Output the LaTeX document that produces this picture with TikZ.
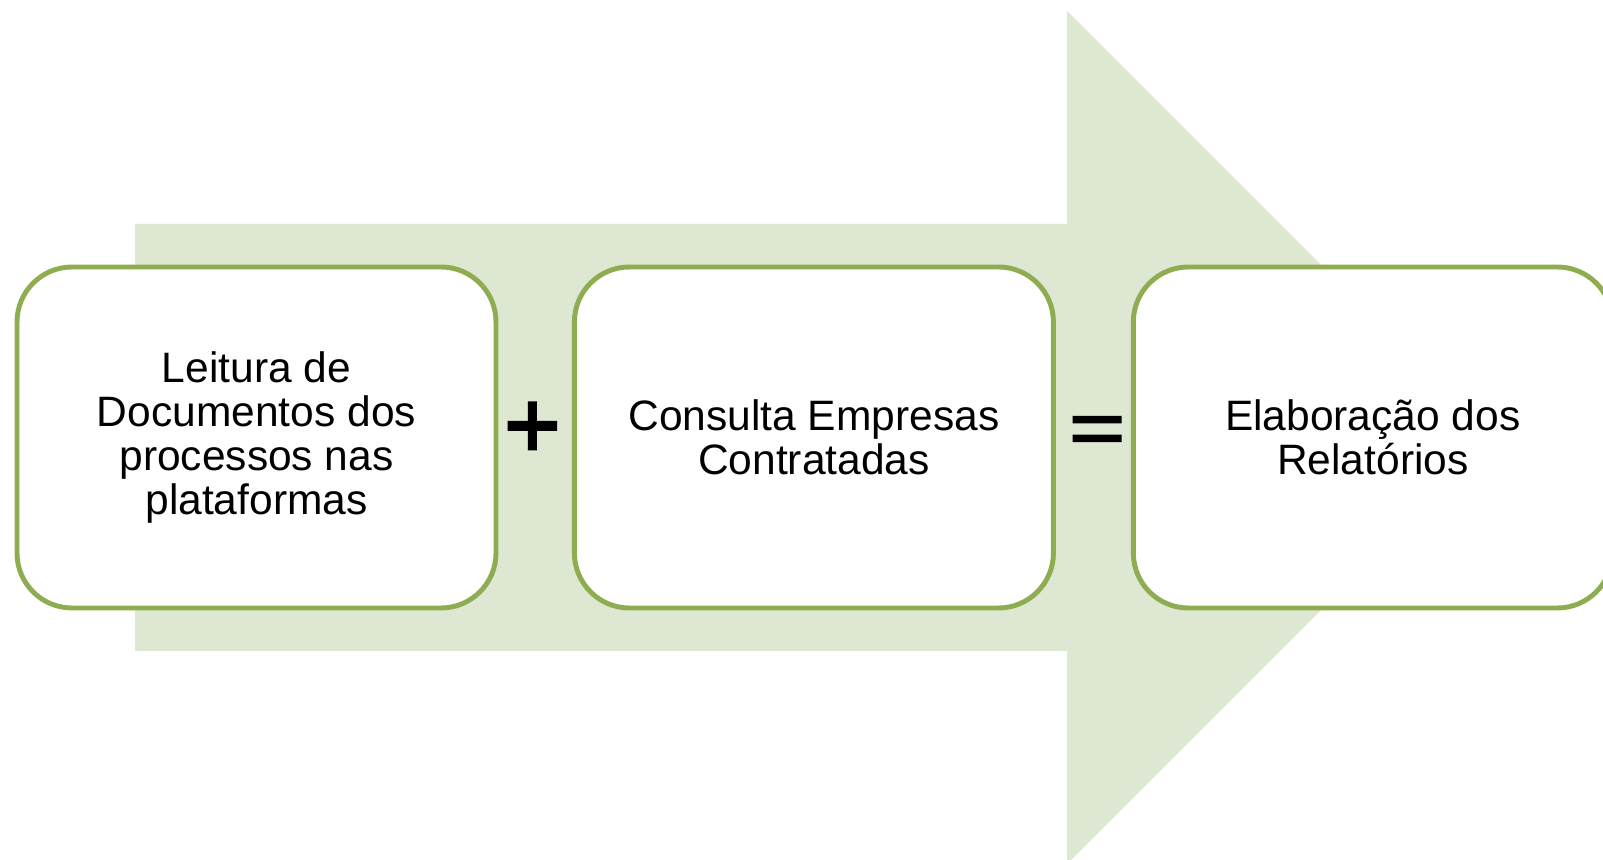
\documentclass[tikz,border=0pt]{standalone}
\usepackage{fontspec}
\setmainfont{Liberation Sans}
\usetikzlibrary{positioning}

\definecolor{arrowgreen}{RGB}{222,231,209}
\definecolor{boxgreen}{RGB}{142,172,80}

\begin{document}
\begin{tikzpicture}
            \fontsize{24.2}{25}\selectfont
            \useasboundingbox (0,0) rectangle (32.06,17.2);

            % big arrow behind the boxes
            \fill[arrowgreen]
                (2.7,12.72) -- (21.34,12.72) -- (21.34,16.98) -- (29.87,8.45)
                -- (21.34,-0.08) -- (21.34,4.18) -- (2.7,4.18) -- cycle;

            \begin{scope}[every node/.style={draw=boxgreen,line width=2.8pt,fill=white,
                    rounded corners=1.1cm,minimum width=9.58cm,minimum height=6.82cm,
                    align=center,inner sep=0pt}]
                \node (leitura) at (5.13,8.45) {Leitura de\\Documentos dos\\processos nas\\plataformas};
                \node (consulta) [right=1.47cm of leitura] {Consulta Empresas\\Contratadas};
                \node (relatorios) [right=1.5cm of consulta] {Elaboração dos\\Relatórios};
            \end{scope}

            % plus and equals signs
            \fill
                (10.15,8.58) rectangle ++(0.99,0.2)
                (10.555,8.19) rectangle ++(0.18,0.98)
            ;
            \fill
                (21.45,8.733) rectangle ++(0.98,0.15)
                (21.45,8.359) rectangle ++(0.98,0.15)
            ;
        \end{tikzpicture}
\end{document}
